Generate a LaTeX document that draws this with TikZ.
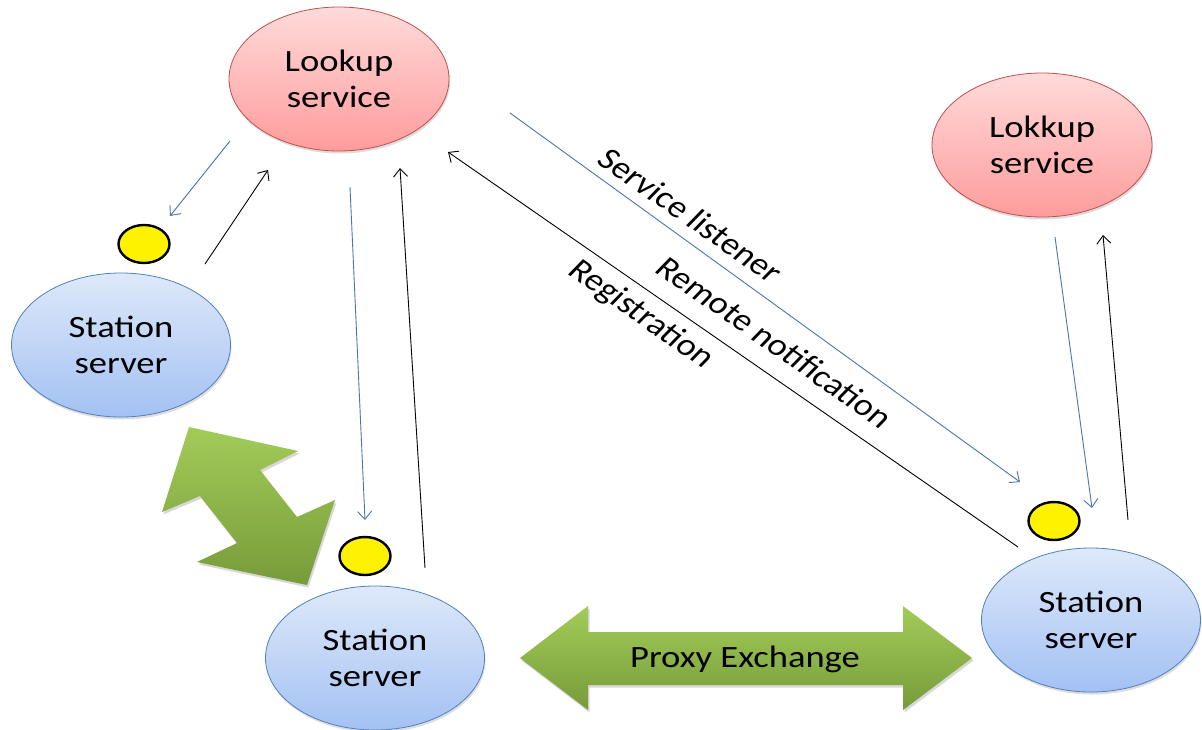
\documentclass[tikz,border=0pt]{standalone}
\usepackage{fontspec}
\setmainfont{Carlito}
\usepackage{graphicx}
\usetikzlibrary{shapes.geometric,arrows.meta,shadows}

% horizontally widened text
\newcommand\wide[1]{\scalebox{1.18}[1]{#1}}

\definecolor{lookuptop}{HTML}{FFDADA}
\definecolor{lookupbot}{HTML}{FF9C9C}
\definecolor{lookupedge}{HTML}{C0504D}
\definecolor{stationtop}{HTML}{DEE9FA}
\definecolor{stationbot}{HTML}{A3C1F3}
\definecolor{stationedge}{HTML}{4F81BD}
\definecolor{linkblue}{HTML}{4A76B0}
\definecolor{greentop}{HTML}{A2CC58}
\definecolor{greenbot}{HTML}{779B3A}

\begin{document}
\begin{tikzpicture}[x=1pt,y=-1pt,
  font=\fontsize{31}{36}\selectfont,
  softshadow/.style={drop shadow={shadow xshift=1pt,shadow yshift=-2.5pt,opacity=0.22,fill=black!60}},
  lookupbox/.style={ellipse, draw=lookupedge, line width=0.8pt,
    top color=lookuptop, bottom color=lookupbot,
    minimum width=220pt, minimum height=144pt, align=center, inner sep=0pt, softshadow},
  stationbox/.style={ellipse, draw=stationedge, line width=0.8pt,
    top color=stationtop, bottom color=stationbot,
    minimum width=219pt, minimum height=144pt, align=center, inner sep=0pt, softshadow},
  token/.style={ellipse, draw=black, line width=2.4pt, fill=yellow,
    minimum width=51pt, minimum height=38pt, inner sep=0pt},
  tip/.style={-{Straight Barb[length=8pt,width=14pt]}},
  bluelink/.style={draw=linkblue, line width=0.9pt, tip},
  blacklink/.style={draw=black, line width=0.9pt, tip},
  greenarrow/.style={top color=greentop, bottom color=greenbot, draw=none,
    drop shadow={shadow xshift=1.5pt,shadow yshift=-2.5pt,opacity=0.25,fill=black!60}},
]
\useasboundingbox[fill=white] (0,0) rectangle (1202,729);

% services and servers
\node[lookupbox] (lookA) at (339,79) {\wide{Lookup}\\\wide{service}};
\node[lookupbox] (lookB) at (1042,145) {\wide{Lokkup}\\\wide{service}};
\node[stationbox] (stA) at (121,345) {\wide{Station}\\\wide{server}};
\node[stationbox] (stB) at (375,658) {\wide{Station}\\\wide{server}};
\node[stationbox] (stC) at (1091,620) {\wide{Station}\\\wide{server}};

% listener tokens
\node[token] (tokA) at (144,244) {};
\node[token] (tokB) at (365,556) {};
\node[token] (tokC) at (1054,521) {};

% connector end points
\coordinate (a1) at (230,141);  \coordinate (a2) at (170,216);
\coordinate (b1) at (205,264);  \coordinate (b2) at (268,170);
\coordinate (c1) at (350,187);  \coordinate (c2) at (365,520);
\coordinate (d1) at (425,568);  \coordinate (d2) at (400,168);
\coordinate (e1) at (510,113);  \coordinate (e2) at (1020,482);
\coordinate (f1) at (1018,547); \coordinate (f2) at (448,152);
\coordinate (g1) at (1055,237); \coordinate (g2) at (1092,508);
\coordinate (h1) at (1128,520); \coordinate (h2) at (1103,235);

\draw[bluelink]  (a1) -- (a2);
\draw[blacklink] (b1) -- (b2);
\draw[bluelink]  (c1) -- (c2);
\draw[blacklink] (d1) -- (d2);
\draw[bluelink]  (e1) -- (e2);
\draw[blacklink] (f1) -- (f2);
\draw[bluelink]  (g1) -- (g2);
\draw[blacklink] (h1) -- (h2);

% labels along the long links
\begin{scope}[shift={(691,215)},xscale=1.18]
  \node[transform shape,rotate=-39.5] (lblA) at (0,0) {Service listener};
\end{scope}
\begin{scope}[shift={(775,342)},xscale=1.18]
  \node[transform shape,rotate=-39.5] (lblB) at (0,0) {Remote notification};
\end{scope}
\begin{scope}[shift={(641,315)},xscale=1.18]
  \node[transform shape,rotate=-39.5] (lblC) at (0,0) {Registration};
\end{scope}

% diagonal exchange arrow
\path[greenarrow] (189,427) -- (298,451) -- (260,470) -- (297,517) -- (335,500)
  -- (307,585) -- (197,562) -- (237,543) -- (200,496) -- (162,512) -- cycle;

% proxy exchange arrow
\path[greenarrow] (520,658) -- (588,606) -- (588,632) -- (903,632) -- (903,606)
  -- (972,658) -- (903,710) -- (903,685) -- (588,685) -- (588,710) -- cycle;
\node (proxy) at (745,659) {\wide{Proxy Exchange}};
\end{tikzpicture}
\end{document}
